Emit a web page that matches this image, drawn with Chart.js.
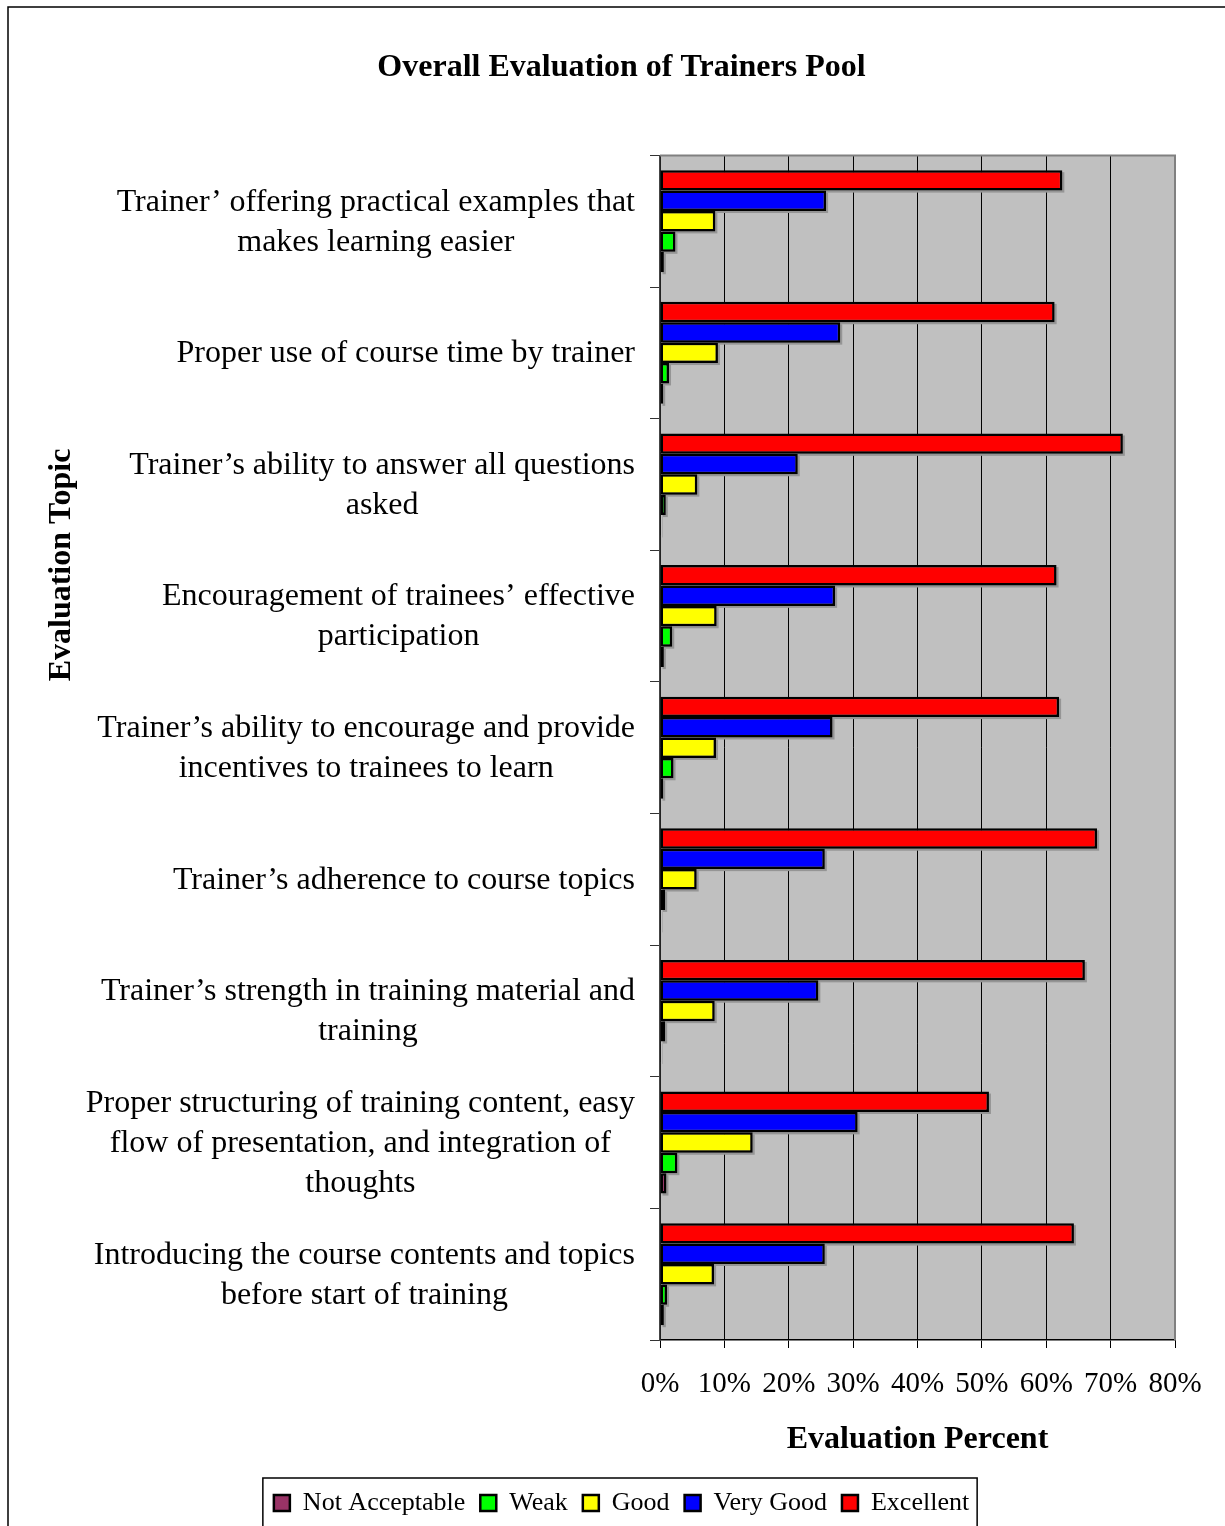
<!DOCTYPE html>
<html>
<head>
<meta charset="utf-8">
<title>Overall Evaluation of Trainers Pool</title>
<script src="https://cdn.jsdelivr.net/npm/chart.js@4.4.1/dist/chart.umd.min.js"></script>
<style>
    html, body { margin: 0; padding: 0; background: #fff; }
    canvas { display: block; }
</style>
</head>
<body>
<canvas id="trainers-chart" width="1225" height="1526"></canvas>
<script>
// evaluation topics, one entry per category, split into display lines
const topics = [
    ["Trainer’ offering practical examples that", "makes learning easier"],
    ["Proper use of course time by trainer"],
    ["Trainer’s ability to answer all questions", "asked"],
    ["Encouragement of trainees’ effective", "participation"],
    ["Trainer’s ability to encourage and provide", "incentives to trainees to learn"],
    ["Trainer’s adherence to course topics"],
    ["Trainer’s strength in training material and", "training"],
    ["Proper structuring of training content, easy", "flow of presentation, and integration of", "thoughts"],
    ["Introducing the course contents and topics", "before start of training"]
];

// percent of answers per rating
const excellent     = [62.5, 61.3, 71.9, 61.6, 62.0, 67.9, 66.0, 51.1, 64.3];
const veryGood      = [25.8, 28.0, 21.4, 27.2, 26.8, 25.6, 24.6, 30.7, 25.6];
const good          = [8.6, 9.0, 5.8, 8.8, 8.7, 5.7, 8.5, 14.4, 8.4];
const weak          = [2.4, 1.4, 0.9, 1.9, 2.1, 0.8, 0.8, 2.7, 1.1];
const notAcceptable = [0.6, 0.5, 0.15, 0.6, 0.5, 0.15, 0.15, 1.0, 0.6];

const chartTitle = "Overall Evaluation of Trainers Pool";
const xTitle = "Evaluation Percent";
const yTitle = "Evaluation Topic";

const serif = '"Liberation Serif", "Times New Roman", serif';

Chart.defaults.color = '#000';
Chart.defaults.font.family = serif;

// gray plot background, outer frame, bar shadows, topic labels and the legend box
const chartDecor = {
    id: 'chartDecor',
    beforeDraw(chart) {
        const {ctx, chartArea: a} = chart;
        ctx.save();
        ctx.fillStyle = '#c0c0c0';
        ctx.fillRect(a.left, a.top, a.right - a.left, a.bottom - a.top);
        ctx.strokeStyle = '#000';
        ctx.lineWidth = 1.5;
        ctx.beginPath();
        ctx.moveTo(8, chart.height);
        ctx.lineTo(8, 7);
        ctx.lineTo(chart.width, 7);
        ctx.stroke();
        ctx.restore();
    },
    beforeDatasetsDraw(chart) {
        const ctx = chart.ctx;
        ctx.save();
        ctx.fillStyle = '#959595';
        chart.data.datasets.forEach((ds, i) => {
            chart.getDatasetMeta(i).data.forEach(bar => {
                const {x, y, base, height} = bar.getProps(['x', 'y', 'base', 'height'], true);
                ctx.fillRect(base + 2, y - height / 2 + 2, x - base, height);
            });
        });
        ctx.restore();
    },
    afterDraw(chart) {
        const {ctx, chartArea: a} = chart;
        const yScale = chart.scales.y;
        ctx.save();

        // plot border on top and right
        ctx.strokeStyle = '#808080';
        ctx.lineWidth = 2;
        ctx.beginPath();
        ctx.moveTo(a.left, a.top);
        ctx.lineTo(a.right, a.top);
        ctx.lineTo(a.right, a.bottom);
        ctx.stroke();

        // topic labels: centred lines, block right-aligned to the axis
        ctx.fillStyle = '#000';
        ctx.font = '32px ' + serif;
        ctx.textAlign = 'center';
        ctx.textBaseline = 'middle';
        topics.forEach((lines, i) => {
            const y = yScale.getPixelForTick(i);
            const w = Math.max(...lines.map(l => ctx.measureText(l).width));
            const cx = yScale.right - 25 - w / 2;
            lines.forEach((line, j) => {
                ctx.fillText(line, cx, y + 1 + (j - (lines.length - 1) / 2) * 40);
            });
        });

        // y axis title
        ctx.font = 'bold 32px ' + serif;
        ctx.translate(62, 565);
        ctx.rotate(-Math.PI / 2);
        ctx.fillText(yTitle, 0, 0);
        ctx.setTransform(1, 0, 0, 1, 0, 0);

        // legend frame
        const boxes = chart.legend.legendHitBoxes;
        if (boxes && boxes.length) {
            const first = boxes[0];
            const last = boxes[boxes.length - 1];
            const left = first.left - 11;
            const right = last.left + last.width + 8;
            const top = first.top - 12;
            ctx.strokeStyle = '#000';
            ctx.lineWidth = 1.5;
            ctx.strokeRect(left, top, right - left, chart.height - top + 10);
        }
        ctx.restore();
    }
};

new Chart(document.getElementById("trainers-chart"), {
    type: "bar",
    plugins: [chartDecor],
    data: {
        labels: topics,
        datasets: [
            { label: "Excellent", data: excellent, backgroundColor: '#ff0000' },
            { label: "Very Good", data: veryGood, backgroundColor: '#0000ff' },
            { label: "Good", data: good, backgroundColor: '#ffff00' },
            { label: "Weak", data: weak, backgroundColor: '#00ff00' },
            { label: "Not Acceptable", data: notAcceptable, backgroundColor: '#993366' }
        ]
    },
    options: {
        indexAxis: 'y',
        responsive: false,
        animation: false,
        layout: { padding: { left: 18, right: 0, top: 0, bottom: 0 } },
        datasets: {
            bar: {
                borderColor: '#000',
                borderWidth: 2.5,
                borderSkipped: false,
                categoryPercentage: 0.775,
                barPercentage: 1.0
            }
        },
        scales: {
            x: {
                min: 0,
                max: 80,
                ticks: {
                    stepSize: 10,
                    padding: 19,
                    font: { size: 29 },
                    callback: v => v + '%'
                },
                grid: { color: '#000', lineWidth: 1, tickLength: 8 },
                border: { color: '#000', width: 1.5 },
                title: {
                    display: true,
                    text: xTitle,
                    font: { size: 32, weight: 'bold' },
                    padding: { top: 0, bottom: 16 }
                },
                afterFit(scale) { scale.height = 135; }
            },
            y: {
                ticks: { display: false },
                grid: { drawOnChartArea: false, color: '#333', tickLength: 10, offset: true },
                border: { color: '#444', width: 1.5 },
                afterFit(scale) { scale.width = 642; }
            },
            yRight: {
                type: 'category',
                position: 'right',
                axis: 'y',
                ticks: { display: false },
                grid: { display: false },
                border: { display: false },
                afterFit(scale) { scale.width = 50; }
            }
        },
        plugins: {
            title: {
                display: true,
                text: chartTitle,
                font: { size: 32, weight: 'bold' },
                padding: { top: 49, bottom: 68 }
            },
            legend: {
                position: 'bottom',
                reverse: true,
                labels: {
                    boxWidth: 16,
                    boxHeight: 16,
                    padding: 15,
                    font: { size: 26 }
                }
            },
            tooltip: { enabled: false }
        }
    }
});
</script>
</body>
</html>
